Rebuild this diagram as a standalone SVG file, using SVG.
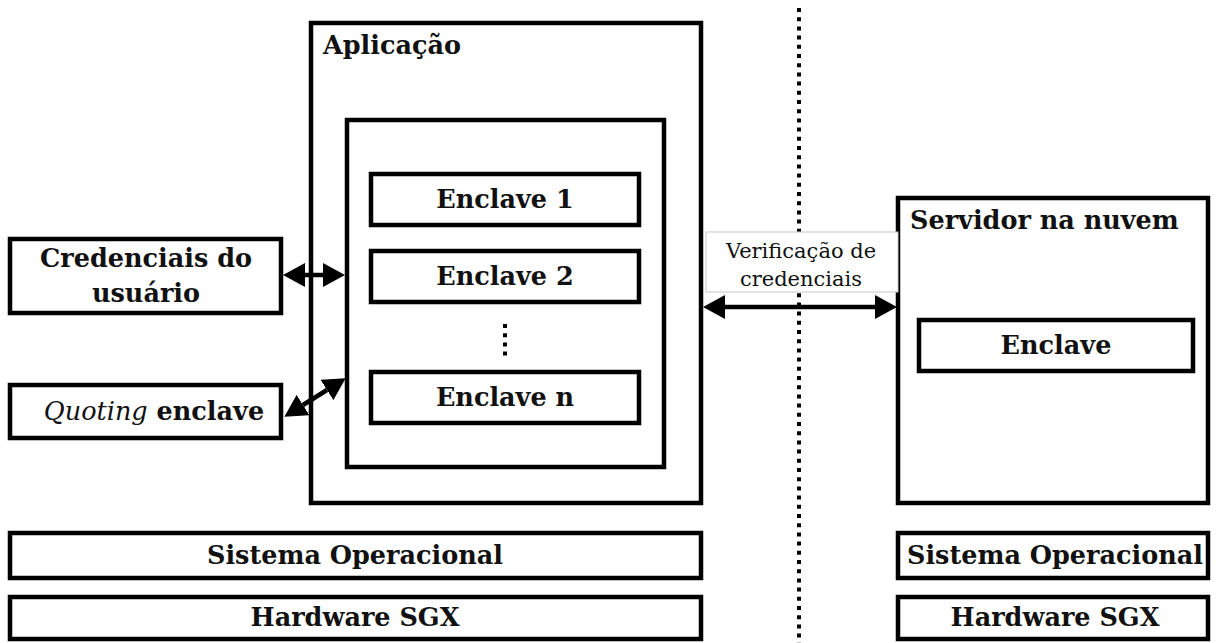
<svg xmlns="http://www.w3.org/2000/svg" width="1217" height="643" viewBox="0 0 1217 643">
  <style>
    .box { fill: #fff; stroke: #000; stroke-width: 4.5; }
    .t { font-family: "DejaVu Serif", "Liberation Serif", serif; font-weight: bold; font-size: 25.5px; fill: #111; text-anchor: middle; }
    .tl { text-anchor: start; }
    .lbl { font-family: "DejaVu Serif", "Liberation Serif", serif; font-size: 21px; fill: #111; text-anchor: middle; }
    .arrow { stroke: #000; stroke-width: 4.5; fill: none; marker-start: url(#head); marker-end: url(#head); }
    .dots { stroke: #000; stroke-width: 4; stroke-dasharray: 4 5.2; fill: none; }
  </style>
  <defs>
    <marker id="head" viewBox="0 -12 22 24" refX="0" refY="0" markerUnits="userSpaceOnUse" markerWidth="22" markerHeight="24" orient="auto-start-reverse">
      <path d="M0,-12 L22,0 L0,12 z" fill="#000"/>
    </marker>
  </defs>
  <rect width="1217" height="643" fill="#fff"/>

  <!-- boundary between local machine and cloud -->
  <line class="dots" x1="799" y1="8" x2="799" y2="643"/>

  <!-- local machine -->
  <g id="aplicacao">
    <rect class="box" x="311" y="23" width="390" height="480"/>
    <text class="t tl" x="323" y="54">Aplicação</text>
  </g>
  <g id="enclaves">
    <rect class="box" x="347" y="120" width="317" height="347"/>
  </g>
  <g id="enclave-1">
    <rect class="box" x="371" y="174" width="268" height="51"/>
    <text class="t" x="505" y="208">Enclave 1</text>
  </g>
  <g id="enclave-2">
    <rect class="box" x="371" y="251" width="268" height="51"/>
    <text class="t" x="505" y="285">Enclave 2</text>
  </g>
  <g id="ellipsis">
    <line class="dots" x1="505" y1="324" x2="505" y2="356"/>
  </g>
  <g id="enclave-n">
    <rect class="box" x="371" y="372" width="268" height="51"/>
    <text class="t" x="505" y="406">Enclave n</text>
  </g>
  <g id="credenciais">
    <rect class="box" x="10" y="239" width="271" height="74"/>
    <text class="t" x="146" y="267">Credenciais do</text>
    <text class="t" x="146" y="302">usuário</text>
  </g>
  <g id="quoting">
    <rect class="box" x="10" y="385" width="271" height="53"/>
    <text class="t" x="154" y="420"><tspan font-style="italic" font-weight="normal">Quoting</tspan> enclave</text>
  </g>
  <g id="so-local">
    <rect class="box" x="10" y="533" width="691" height="45"/>
    <text class="t" x="355" y="564">Sistema Operacional</text>
  </g>
  <g id="hw-local">
    <rect class="box" x="10" y="597" width="691" height="42"/>
    <text class="t" x="355" y="626">Hardware SGX</text>
  </g>

  <!-- cloud -->
  <g id="servidor">
    <rect class="box" x="898" y="198" width="310" height="305"/>
    <text class="t tl" x="910" y="229">Servidor na nuvem</text>
  </g>
  <g id="enclave-remoto">
    <rect class="box" x="919" y="320" width="274" height="51"/>
    <text class="t" x="1056" y="354">Enclave</text>
  </g>
  <g id="so-remoto">
    <rect class="box" x="898" y="533" width="310" height="45"/>
    <text class="t" x="1055" y="564">Sistema Operacional</text>
  </g>
  <g id="hw-remoto">
    <rect class="box" x="898" y="597" width="310" height="42"/>
    <text class="t" x="1055" y="626">Hardware SGX</text>
  </g>

  <!-- connectors -->
  <g id="connectors">
    <line class="arrow" x1="305" y1="275" x2="323" y2="275"/>
    <line class="arrow" x1="303" y1="405" x2="327" y2="390"/>
    <rect x="706" y="232" width="192" height="60" fill="#fff" stroke="#c8c8c8" stroke-width="1"/>
    <text class="lbl" x="801" y="258">Verificação de</text>
    <text class="lbl" x="801" y="286">credenciais</text>
    <line class="arrow" x1="725" y1="307" x2="875" y2="307"/>
  </g>
</svg>
